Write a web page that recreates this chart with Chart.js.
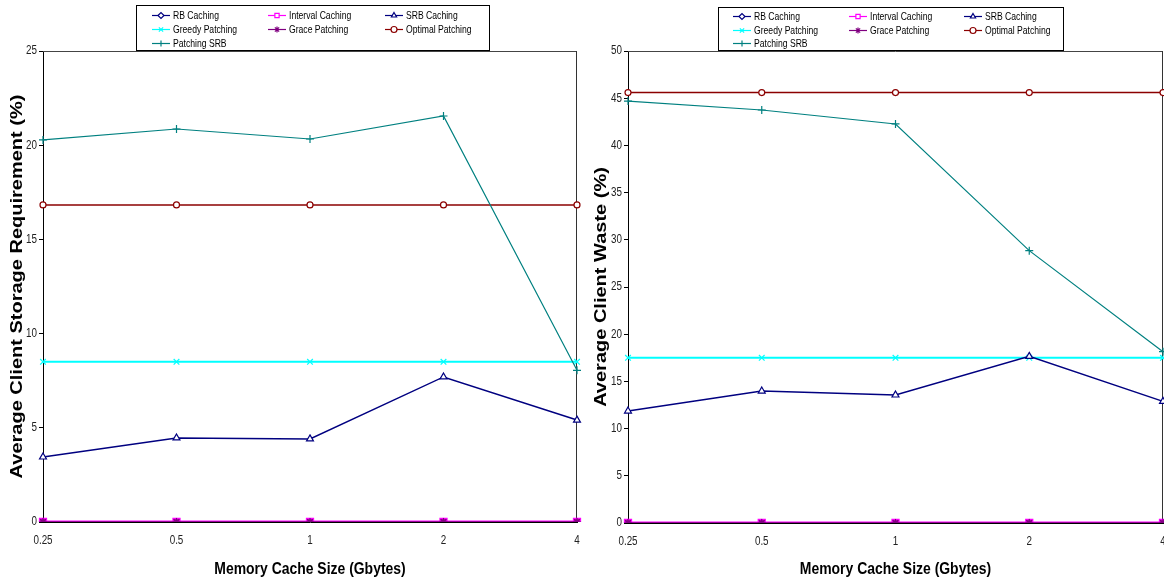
<!DOCTYPE html>
<html>
<head>
<meta charset="utf-8">
<title>Client storage and waste vs memory cache size</title>
<script src="https://cdn.jsdelivr.net/npm/chart.js@4/dist/chart.umd.min.js"></script>
<style>
  html, body { margin: 0; padding: 0; background: #fff; }
  .panel { position: absolute; top: 0; width: 582px; height: 582px; }
  #leftPanel { left: 0; }
  #rightPanel { left: 582px; }
</style>
</head>
<body>
<div class="panel" id="leftPanel"><canvas id="storageChart" width="582" height="582"></canvas></div>
<div class="panel" id="rightPanel"><canvas id="wasteChart" width="582" height="582"></canvas></div>
<script>
// Memory cache sizes (Gbytes) on the x axis
const cacheSizes = ['0.25', '0.5', '1', '2', '4'];

// Series names, in legend order
const seriesNames = ['RB Caching', 'Interval Caching', 'SRB Caching', 'Greedy Patching',
                     'Grace Patching', 'Optimal Patching', 'Patching SRB'];

// Average client storage requirement (%)
const storageRB         = [0, 0, 0, 0, 0];
const storageInterval   = [0, 0, 0, 0, 0];
const storageSRB        = [3.45, 4.46, 4.41, 7.7, 5.41];
const storageGreedy     = [8.5, 8.5, 8.5, 8.5, 8.5];
const storageGrace      = [0, 0, 0, 0, 0];
const storageOptimal    = [16.83, 16.83, 16.83, 16.83, 16.83];
const storagePatchSRB   = [20.28, 20.86, 20.33, 21.55, 8.05];

// Average client waste (%)
const wasteRB           = [0, 0, 0, 0, 0];
const wasteInterval     = [0, 0, 0, 0, 0];
const wasteSRB          = [11.86, 13.98, 13.56, 17.65, 12.88];
const wasteGreedy       = [17.5, 17.5, 17.5, 17.5, 17.5];
const wasteGrace        = [0, 0, 0, 0, 0];
const wasteOptimal      = [45.6, 45.6, 45.6, 45.6, 45.6];
const wastePatchSRB     = [44.7, 43.75, 42.27, 28.85, 18.15];

// Y axis tick ranges
const storageTicks = { min: 0, max: 25, step: 5 };
const wasteTicks   = { min: 0, max: 50, step: 5 };

const FONT = '"Liberation Sans", Arial, sans-serif';

// Line and marker look of each series
const seriesStyles = [
  { color: '#000080', pointStyle: 'rectRot',  radius: 3.5, width: 1.5, order: 2, fill: '#ffffff' },
  { color: '#FF00FF', pointStyle: 'rect',     radius: 5,   width: 3,   order: 1, fill: '#B000B0' },
  { color: '#000080', pointStyle: 'triangle', radius: 4,   width: 1.5, order: 4, fill: '#ffffff' },
  { color: '#00FFFF', pointStyle: 'crossRot', radius: 4,   width: 2,   order: 5, fill: '#ffffff' },
  { color: '#800080', pointStyle: 'star',     radius: 4,   width: 1.5, order: 0, fill: '#ffffff' },
  { color: '#8B0000', pointStyle: 'circle',   radius: 3,   width: 1.5, order: 6, fill: '#ffffff' },
  { color: '#008080', pointStyle: 'cross',    radius: 4,   width: 1.2, order: 3, fill: '#ffffff' }
];

function makeDatasets(valueLists) {
  return valueLists.map((values, i) => {
    const s = seriesStyles[i];
    return {
      label: seriesNames[i],
      data: values,
      borderColor: s.color,
      backgroundColor: '#ffffff',
      borderWidth: s.width,
      pointStyle: s.pointStyle,
      pointRadius: s.radius,
      pointBorderColor: s.color,
      pointBackgroundColor: s.fill,
      pointBorderWidth: 1.2,
      pointHoverRadius: s.radius,
      tension: 0,
      fill: false,
      order: s.order
    };
  });
}

// Condensed lettering: every text run is squeezed horizontally about its anchor
const condensedText = {
  id: 'condensedText',
  install(chart, args, opts) {
    const ctx = chart.ctx;
    const plainFill = ctx.fillText.bind(ctx);
    ctx.fillText = function (text, x, y, maxWidth) {
      const m = ctx.getTransform();
      const p = m.transformPoint(new DOMPoint(x, y));
      ctx.save();
      ctx.setTransform(new DOMMatrix()
        .translate(p.x, p.y).scale(opts.squeeze, 1).translate(-p.x, -p.y)
        .multiply(m));
      if (maxWidth === undefined) plainFill(text, x, y);
      else plainFill(text, x, y, maxWidth);
      ctx.restore();
    };
  }
};

// Boxed three-column legend drawn in the top margin
const boxLegend = {
  id: 'boxLegend',
  afterDraw(chart, args, opts) {
    const ctx = chart.ctx;
    ctx.save();
    ctx.strokeStyle = '#000';
    ctx.lineWidth = 1;
    ctx.strokeRect(opts.left + 0.5, opts.top + 0.5, opts.right - opts.left, opts.bottom - opts.top);
    ctx.font = '10.5px ' + FONT;
    ctx.textBaseline = 'middle';
    ctx.textAlign = 'left';
    chart.data.datasets.forEach((ds, i) => {
      const col = i % 3, row = Math.floor(i / 3);
      const x0 = opts.cols[col], y = opts.rows[row];
      const x1 = x0 + opts.lineLen;
      ctx.strokeStyle = ds.borderColor;
      ctx.lineWidth = 1.2;
      ctx.beginPath();
      ctx.moveTo(x0, y + 0.5);
      ctx.lineTo(x1, y + 0.5);
      ctx.stroke();
      ctx.fillStyle = '#ffffff';
      ctx.strokeStyle = ds.borderColor;
      Chart.helpers.drawPoint(ctx, {
        pointStyle: ds.pointStyle, radius: 3, rotation: 0, borderWidth: 1
      }, (x0 + x1) / 2, y + 0.5);
      ctx.fillStyle = '#000';
      ctx.fillText(ds.label, x1 + opts.textGap, y + 1);
    });
    ctx.restore();
  }
};

// Top and right edges of the plot frame
const plotFrame = {
  id: 'plotFrame',
  beforeDatasetsDraw(chart) {
    const { ctx, chartArea: a } = chart;
    ctx.save();
    ctx.lineWidth = 1;
    ctx.strokeStyle = '#444';
    ctx.beginPath();
    ctx.moveTo(a.left, a.top + 0.5);
    ctx.lineTo(a.right, a.top + 0.5);
    ctx.stroke();
    ctx.strokeStyle = '#333';
    ctx.beginPath();
    ctx.moveTo(a.right - 0.5, a.top);
    ctx.lineTo(a.right - 0.5, a.bottom);
    ctx.stroke();
    ctx.restore();
  }
};

function makeChart(canvasId, valueLists, ticks, yTitle, g) {
  return new Chart(document.getElementById(canvasId), {
    type: 'line',
    data: { labels: cacheSizes, datasets: makeDatasets(valueLists) },
    plugins: [condensedText, plotFrame, boxLegend],
    options: {
      responsive: false,
      animation: false,
      events: [],
      layout: { autoPadding: false, padding: { top: g.top, right: g.right, left: 0, bottom: 0 } },
      plugins: {
        legend: { display: false },
        tooltip: { enabled: false },
        condensedText: { squeeze: 0.82 },
        boxLegend: g.legend
      },
      scales: {
        x: {
          type: 'category',
          offset: false,
          grid: { display: false, drawTicks: false },
          border: { display: true, color: '#000', width: 1 },
          ticks: {
            color: '#222', padding: g.xTickPad, maxRotation: 0, autoSkip: false,
            font: { family: FONT, size: 12 }
          },
          title: {
            display: true, text: 'Memory Cache Size (Gbytes)', color: '#000',
            font: { family: FONT, size: 17, weight: 'bold' },
            padding: { top: 0, bottom: g.xTitlePad }
          },
          afterFit(scale) {
            scale.height = g.xHeight;
            scale.paddingLeft = 0;
            scale.paddingRight = 0;
          }
        },
        y: {
          min: ticks.min, max: ticks.max,
          grid: { display: true, drawOnChartArea: false, drawTicks: true, tickLength: 4, color: '#000' },
          border: { display: true, color: '#000', width: 1 },
          ticks: {
            stepSize: ticks.step, color: '#222', padding: 2,
            font: { family: FONT, size: 12 }
          },
          title: {
            display: true, text: yTitle, color: '#000',
            font: { family: FONT, size: 20, weight: 'bold' },
            padding: { top: g.yTitlePad, bottom: 0 }
          },
          afterFit(scale) {
            scale.width = g.yWidth;
            scale.paddingTop = 0;
            scale.paddingBottom = 0;
          }
        }
      }
    }
  });
}

makeChart('storageChart',
  [storageRB, storageInterval, storageSRB, storageGreedy, storageGrace, storageOptimal, storagePatchSRB],
  storageTicks, 'Average Client Storage Requirement (%)',
  { top: 51, right: 5, yWidth: 43, xHeight: 60, xTickPad: 11, xTitlePad: 2, yTitlePad: 5,
    legend: { left: 136, top: 5, right: 489, bottom: 50, cols: [152, 268, 385], rows: [15, 29, 43], lineLen: 18, textGap: 3 } });

makeChart('wasteChart',
  [wasteRB, wasteInterval, wasteSRB, wasteGreedy, wasteGrace, wasteOptimal, wastePatchSRB],
  wasteTicks, 'Average Client Waste (%)',
  { top: 51, right: 1, yWidth: 46, xHeight: 59, xTickPad: 11, xTitlePad: 2, yTitlePad: 7,
    legend: { left: 136, top: 7, right: 481, bottom: 50, cols: [151, 267, 382], rows: [16, 30, 43], lineLen: 18, textGap: 3 } });
</script>
</body>
</html>
